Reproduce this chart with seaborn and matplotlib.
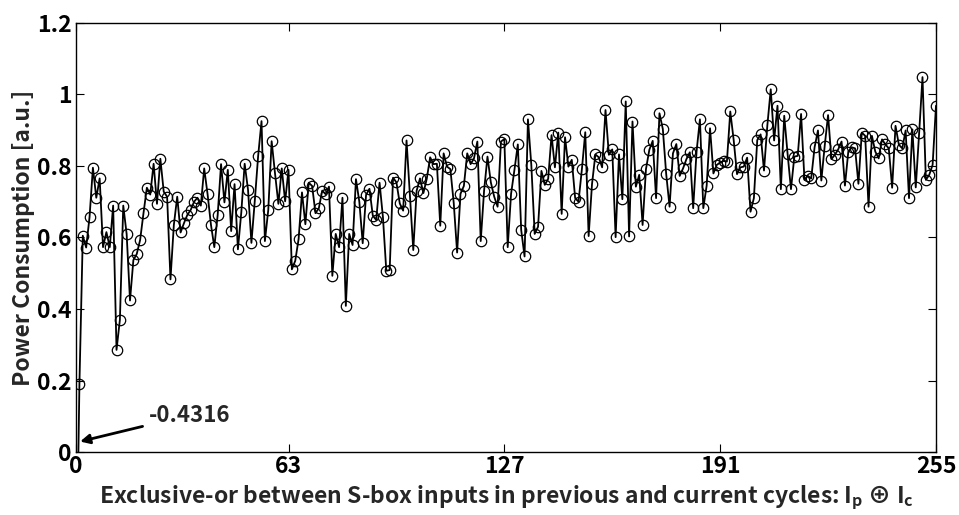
import numpy as np
import pandas as pd
import matplotlib
matplotlib.use("Agg")
import matplotlib.pyplot as plt
import seaborn as sns

values = [
    -0.4316, 0.19, 0.605, 0.572, 0.657, 0.795, 0.711, 0.765, 0.573, 0.615,
    0.573, 0.689, 0.286, 0.370, 0.689, 0.610, 0.424, 0.537, 0.554, 0.593,
    0.668, 0.739, 0.720, 0.806, 0.694, 0.820, 0.728, 0.714, 0.483, 0.635,
    0.714, 0.614, 0.640, 0.663, 0.677, 0.700, 0.711, 0.689, 0.793, 0.721,
    0.636, 0.573, 0.663, 0.805, 0.698, 0.789, 0.618, 0.749, 0.567, 0.670,
    0.806, 0.733, 0.585, 0.702, 0.828, 0.925, 0.590, 0.677, 0.869, 0.779,
    0.694, 0.793, 0.701, 0.789, 0.511, 0.535, 0.596, 0.726, 0.637, 0.753,
    0.744, 0.668, 0.682, 0.731, 0.721, 0.742, 0.493, 0.610, 0.573, 0.711,
    0.409, 0.610, 0.579, 0.763, 0.700, 0.584, 0.719, 0.736, 0.661, 0.649,
    0.753, 0.657, 0.507, 0.509, 0.767, 0.754, 0.695, 0.675, 0.871, 0.717,
    0.565, 0.731, 0.765, 0.724, 0.764, 0.824, 0.805, 0.806, 0.633, 0.835,
    0.798, 0.791, 0.696, 0.558, 0.722, 0.744, 0.835, 0.805, 0.821, 0.868,
    0.590, 0.731, 0.826, 0.754, 0.714, 0.686, 0.868, 0.875, 0.573, 0.722,
    0.789, 0.860, 0.621, 0.547, 0.930, 0.803, 0.610, 0.630, 0.786, 0.747,
    0.764, 0.886, 0.796, 0.893, 0.666, 0.880, 0.798, 0.817, 0.710, 0.700,
    0.791, 0.894, 0.604, 0.749, 0.832, 0.824, 0.796, 0.956, 0.831, 0.846,
    0.601, 0.832, 0.707, 0.980, 0.603, 0.924, 0.742, 0.775, 0.635, 0.791,
    0.845, 0.870, 0.710, 0.947, 0.903, 0.777, 0.686, 0.835, 0.861, 0.772,
    0.793, 0.819, 0.838, 0.682, 0.840, 0.930, 0.682, 0.745, 0.905, 0.779,
    0.803, 0.809, 0.814, 0.812, 0.952, 0.873, 0.777, 0.796, 0.798, 0.823,
    0.672, 0.710, 0.872, 0.888, 0.787, 0.914, 1.014, 0.871, 0.968, 0.735,
    0.940, 0.833, 0.735, 0.826, 0.828, 0.945, 0.761, 0.772, 0.765, 0.852,
    0.899, 0.759, 0.856, 0.942, 0.819, 0.831, 0.846, 0.868, 0.745, 0.840,
    0.852, 0.849, 0.750, 0.893, 0.884, 0.686, 0.884, 0.840, 0.821, 0.874,
    0.860, 0.849, 0.739, 0.912, 0.859, 0.849, 0.899, 0.710, 0.902, 0.740,
    0.891, 1.048, 0.761, 0.775, 0.803, 0.968,
]
x_index = list(range(len(values)))
x_ticks = [0, 63, 127, 191, 255]
y_ticks = [0, 0.2, 0.4, 0.6, 0.8, 1.0, 1.2]
y_tick_labels = ["0", "0.2", "0.4", "0.6", "0.8", "1", "1.2"]
annot_text = "-0.4316"
x_label = "Exclusive-or between S-box inputs in previous and current cycles: $\\mathbf{I_p}$ $\\mathbf{\\oplus}$ $\\mathbf{I_c}$"
y_label = "Power Consumption [a.u.]"

sns.set_style("white")
plt.rcParams['font.family'] = ['Noto Sans CJK JP', 'DejaVu Sans']
plt.rcParams['font.weight'] = 'bold'
plt.rcParams['mathtext.fontset'] = 'custom'
plt.rcParams['mathtext.rm'] = 'Noto Sans CJK JP:bold'
plt.rcParams['mathtext.bf'] = 'Noto Sans CJK JP:bold'
plt.rcParams['mathtext.it'] = 'Noto Sans CJK JP:bold'

df = pd.DataFrame({"x": x_index, "y": values})

fig = plt.figure(figsize=(9.59, 5.15), dpi=100)
ax = fig.add_axes([0.0793, 0.1218, 0.8967, 0.8341])

sns.lineplot(data=df, x="x", y="y", ax=ax, color="black", linewidth=1.3,
             marker="o", markersize=7.5, markerfacecolor="none",
             markeredgecolor="black", markeredgewidth=0.9, estimator=None)

ax.set_xlim(0, 255)
ax.set_ylim(0, 1.2)
ax.set_xticks(x_ticks)
ax.set_xticklabels([str(t) for t in x_ticks], fontsize=16.5, fontweight='bold')
ax.set_yticks(y_ticks)
ax.set_yticklabels(y_tick_labels, fontsize=16.5, fontweight='bold')
ax.tick_params(axis='x', pad=2)
ax.tick_params(axis='y', pad=3)
ax.tick_params(direction="in", length=6, width=0.8, top=True, right=True,
               bottom=True, left=True, colors="black")
for s in ax.spines.values():
    s.set_visible(True)
    s.set_color("black")
    s.set_linewidth(1.0)

ax.set_xlabel(x_label, fontsize=16.5, fontweight='bold')
ax.xaxis.set_label_coords(0.5, -0.072)
ax.set_ylabel(y_label, fontsize=16.5, fontweight='bold')
ax.yaxis.set_label_coords(-0.048, 0.5)

ax.annotate(annot_text, xy=(1.2, 0.03), xytext=(21.5, 0.104),
            textcoords="data", fontsize=16, fontweight='bold', va='center', ha='left',
            arrowprops=dict(arrowstyle="-|>", color="black", lw=2, mutation_scale=14,
                            shrinkA=2, shrinkB=0))

fig.savefig("out.png", dpi=100)
